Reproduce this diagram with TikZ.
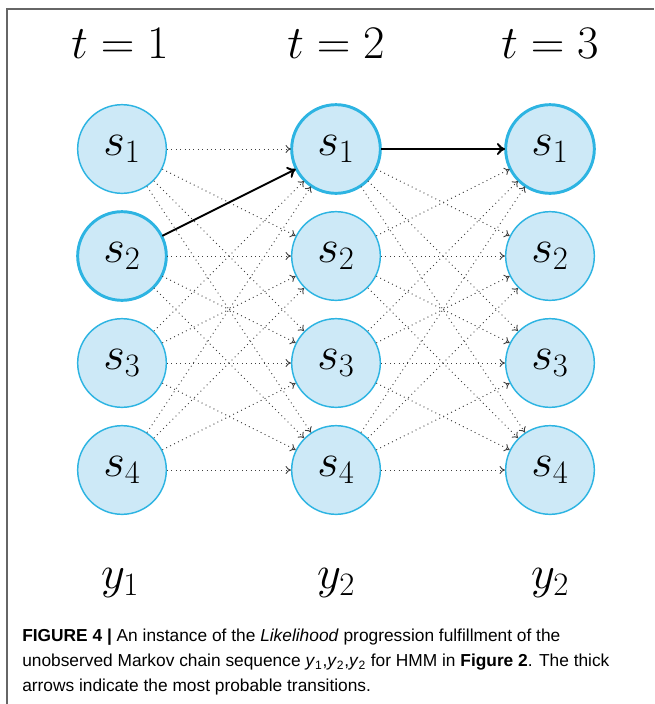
\RequirePackage{fix-cm}
\documentclass[tikz,border=0pt]{standalone}
\usepackage{fontspec}
\newfontfamily\capfont{Liberation Sans}
\usetikzlibrary{arrows.meta}
\definecolor{stateblue}{HTML}{CDE9F7}
\definecolor{statering}{HTML}{2DB4E2}
\tikzset{
  state/.style={circle, draw=statering, fill=stateblue, line width=1.1pt,
    minimum size=66.5pt, inner sep=0pt, font=\fontsize{35}{40}\selectfont},
  best/.style={line width=2.2pt},
  steplabel/.style={anchor=base, font=\fontsize{35}{40}\selectfont},
  trans/.style={black!75, line width=0.7pt, dash pattern=on 0.7pt off 2.6pt,
    -{To[length=4pt,width=6pt]}},
  besttrans/.style={line width=1.4pt, -{To[length=6pt,width=9pt]}}
}
\begin{document}
\begin{tikzpicture}[x=0.75pt, y=-0.75pt]
\useasboundingbox (0,0) rectangle (654,704);
\draw[gray!80!black, line width=0.8pt] (7,704) |- (654,9);
% time steps
\node[steplabel] (t1) at (120,58) {$t=1$};
\node[steplabel] (t2) at (336,58) {$t=2$};
\node[steplabel] (t3) at (550,58) {$t=3$};
% states
\foreach \c/\x in {1/122,2/336,3/550}
  \foreach \r/\y in {1/149,2/256,3/363,4/470}
    \node[state] (s\c\r) at (\x,\y) {$s_{\r}$};
\node[state, best] at (s12) {$s_2$};
\node[state, best] at (s21) {$s_1$};
\node[state, best] at (s31) {$s_1$};
% all transitions
\foreach \a/\b in {1/2,2/3}
  \foreach \i in {1,...,4}
    \foreach \j in {1,...,4}
      \draw[trans] (s\a\i) -- (s\b\j);
\draw[besttrans] (s12) -- (s21);
\draw[besttrans] (s21) -- (s31);
% observations
\node[steplabel] (y1) at (120,588) {$y_1$};
\node[steplabel] (y2) at (336,588) {$y_2$};
\node[steplabel] (y3) at (550,588) {$y_2$};
\node[anchor=base west, align=left, inner sep=0pt,
  font=\capfont\fontsize{13}{18.4}\selectfont] (cap) at (22,691)
  {\textbf{FIGURE 4 |} An instance of the \textit{Likelihood} progression fulfillment of the\\
   unobserved Markov chain sequence \textit{y}\textsubscript{1},\textit{y}\textsubscript{2},\textit{y}\textsubscript{2} for HMM in \textbf{Figure 2}. The thick\\
   arrows indicate the most probable transitions.};
\end{tikzpicture}
\end{document}
